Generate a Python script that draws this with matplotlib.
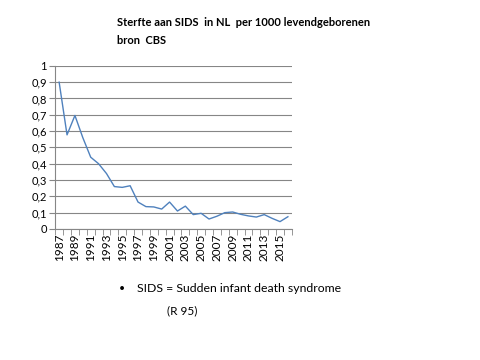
import numpy as np
import matplotlib.pyplot as plt

plt.rcParams['font.family'] = ['Lato', 'DejaVu Sans']

years = list(range(1987, 2017))
sids = [0.90, 0.577, 0.696, 0.56, 0.44, 0.40, 0.34, 0.26, 0.255, 0.265,
        0.165, 0.137, 0.135, 0.122, 0.165, 0.11, 0.14, 0.088, 0.096, 0.061,
        0.078, 0.10, 0.104, 0.09, 0.08, 0.073, 0.088, 0.065, 0.045, 0.075]
yticks = [0, 0.1, 0.2, 0.3, 0.4, 0.5, 0.6, 0.7, 0.8, 0.9, 1]

fig = plt.figure(figsize=(4.8, 3.6), dpi=100)
ax = fig.add_axes([0.115, 0.364, 0.493, 0.453])

x = np.arange(len(years))
ax.plot(x, sids, color='#4F81BD', linewidth=1)

ax.set_xlim(-0.5, len(years) - 0.5)
ax.set_ylim(0, 1)
ax.set_yticks(yticks)
ax.set_yticklabels([f"{v:g}".replace('.', ',') for v in yticks], fontsize=8)
ax.yaxis.grid(True, color='#868686', linewidth=0.8)
ax.set_axisbelow(True)

ax.set_xticks(x[::2])
ax.set_xticklabels([str(y) for y in years[::2]], rotation=90, fontsize=8.5)
ax.set_xticks(np.arange(-0.5, len(years)), minor=True)
ax.tick_params(axis='x', which='major', length=0, pad=3)
ax.tick_params(axis='x', which='minor', length=4, color='#868686')
ax.tick_params(axis='y', length=4, color='#868686', pad=2)

for s in ['top', 'right']:
    ax.spines[s].set_visible(False)
ax.spines['left'].set_color('#868686')
ax.spines['bottom'].set_color('#868686')

fig.text(117 / 480, 1 - 23 / 360, "Sterfte aan SIDS  in NL  per 1000 levendgeborenen",
         fontsize=8, fontweight='bold', va='center')
fig.text(117 / 480, 1 - 41 / 360, "bron  CBS", fontsize=8, fontweight='bold', va='center')

fig.text(119 / 480, 1 - 289 / 360, "\u2022", fontsize=7.5, va='center')
fig.text(137 / 480, 1 - 289 / 360, "SIDS = Sudden infant death syndrome", fontsize=8.8, va='center')
fig.text(167 / 480, 1 - 311 / 360, "(R 95)", fontsize=8.5, va='center')

fig.savefig('out.png', dpi=100)
